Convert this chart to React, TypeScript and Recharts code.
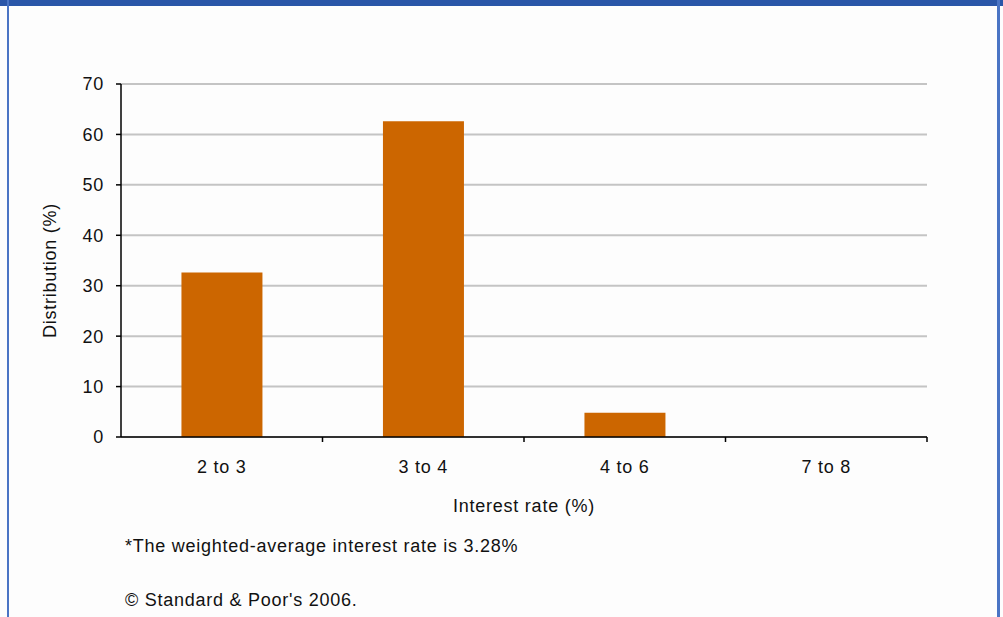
import { BarChart, Bar, XAxis, YAxis, CartesianGrid, Label } from 'recharts'

// distribution of interest rates (%)
const categories = ['2 to 3', '3 to 4', '4 to 6', '7 to 8']
const distribution = [32.6, 62.6, 4.8, 0]
const yTicks = [0, 10, 20, 30, 40, 50, 60, 70]

const data = categories.map((name, i) => ({ name, value: distribution[i] }))

const W = 1003
const H = 617
const MARGIN = { top: 84, right: 76, left: 41, bottom: 100 }
const Y_AXIS_W = 80
const BAND = (W - MARGIN.left - MARGIN.right - Y_AXIS_W) / categories.length
const FONT = '"Liberation Sans", Arial, sans-serif'
const TXT = { fontSize: 18, fill: '#111', fontFamily: FONT, letterSpacing: 0.75 }

const XTick = ({ x, y, payload }: any) => (
    <g>
        <line x1={x + BAND / 2} x2={x + BAND / 2} y1={y} y2={y + 5} stroke="#000" strokeWidth={1.5} />
        <text x={x} y={y + 36} textAnchor="middle" {...TXT}>
            {payload.value}
        </text>
    </g>
)

const YTitle = ({ viewBox }: any) => {
    const cx = viewBox.x + 9
    const cy = viewBox.y + viewBox.height / 2 + 10
    return (
        <text x={cx} y={cy} transform={`rotate(-90 ${cx} ${cy})`} textAnchor="middle" dominantBaseline="central" {...TXT}>
            Distribution (%)
        </text>
    )
}

const XTitle = ({ viewBox }: any) => (
    <text x={viewBox.x + viewBox.width / 2} y={viewBox.y + 75} textAnchor="middle" {...TXT}>
        Interest rate (%)
    </text>
)

export default function App() {
    return (
        <div style={{ position: 'absolute', left: 0, top: 0, width: W, height: H, background: '#fdfdfd', fontFamily: FONT }}>
            <div style={{ position: 'absolute', left: 0, top: 0, width: W, height: 6, background: '#2a56a8' }} />
            <div style={{ position: 'absolute', left: 7, top: 0, width: 2, height: H, background: '#4a74c4' }} />
            <div style={{ position: 'absolute', left: 997, top: 0, width: 3, height: H, background: '#4a74c4' }} />
            <BarChart width={W} height={H} data={data} margin={MARGIN} barCategoryGap="30%">
                <CartesianGrid vertical={false} stroke="#c4c4c4" strokeWidth={2} />
                <XAxis
                    dataKey="name"
                    tick={<XTick />}
                    tickSize={0}
                    tickMargin={0}
                    tickLine={false}
                    axisLine={{ stroke: '#000', strokeWidth: 1.5 }}
                    height={80}
                    interval={0}
                >
                    <Label content={<XTitle />} />
                </XAxis>
                <YAxis
                    domain={[0, 70]}
                    ticks={yTicks}
                    width={Y_AXIS_W}
                    tickSize={5}
                    tickMargin={12}
                    tick={TXT}
                    tickLine={{ stroke: '#000', strokeWidth: 1.5 }}
                    axisLine={{ stroke: '#000', strokeWidth: 1.5 }}
                >
                    <Label content={<YTitle />} />
                </YAxis>
                <Bar dataKey="value" fill="#cc6600" isAnimationActive={false} />
            </BarChart>
            <div style={{ position: 'absolute', left: 125, top: 536, fontSize: 18, letterSpacing: 0.75, color: '#111' }}>
                *The weighted-average interest rate is 3.28%
            </div>
            <div style={{ position: 'absolute', left: 125, top: 590, fontSize: 18, letterSpacing: 0.75, color: '#111' }}>
                © Standard &amp; Poor's 2006.
            </div>
        </div>
    )
}
